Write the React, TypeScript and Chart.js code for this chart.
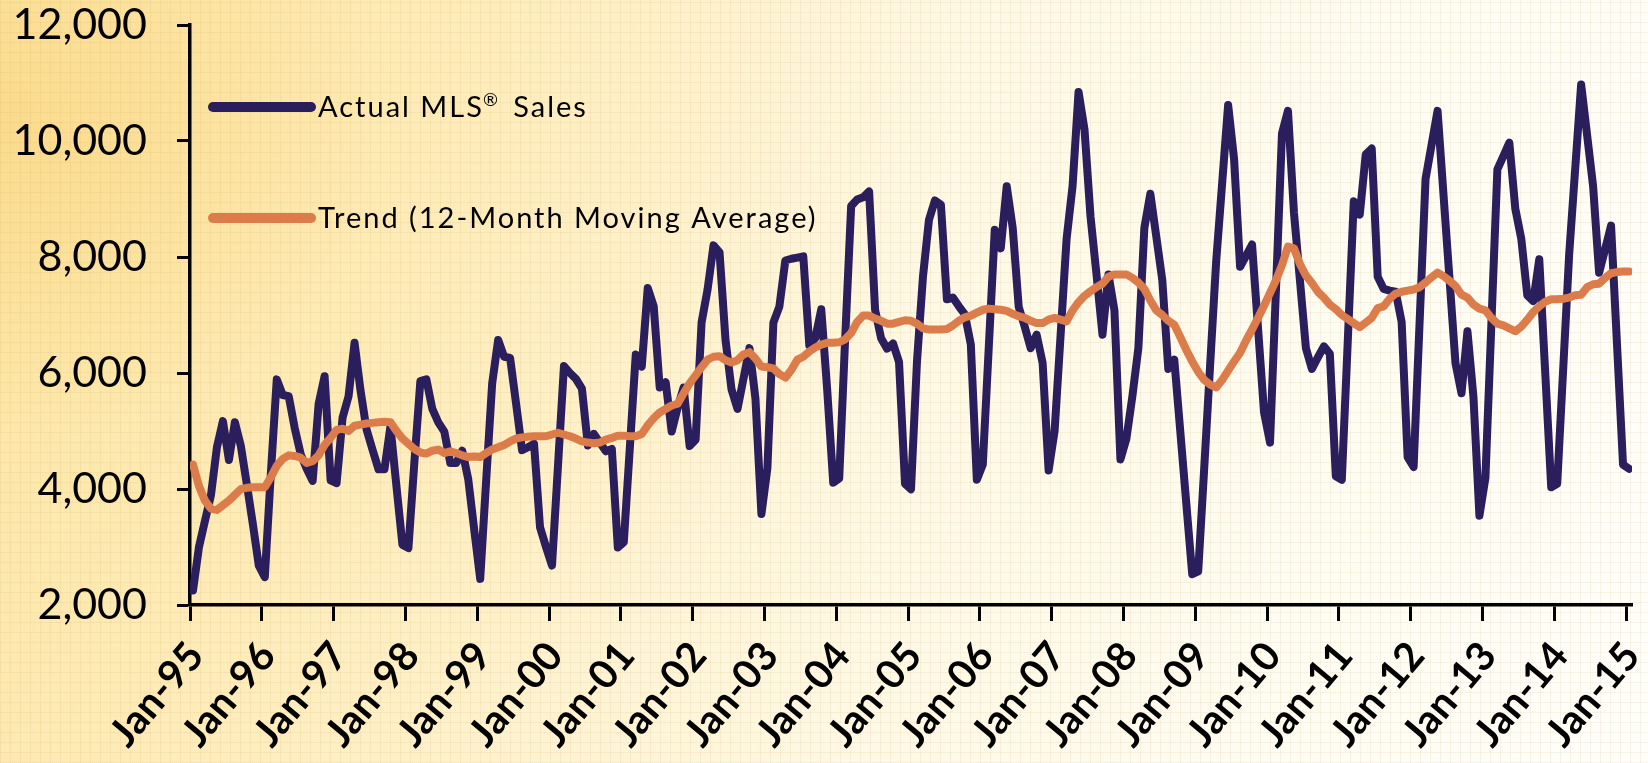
import React, { useEffect, useRef } from "react";
import { Chart, registerables } from "chart.js";

Chart.register(...registerables);

// ---------------- DATA ----------------
const yearLabels = [
  "Jan-95", "Jan-96", "Jan-97", "Jan-98", "Jan-99", "Jan-00", "Jan-01",
  "Jan-02", "Jan-03", "Jan-04", "Jan-05", "Jan-06", "Jan-07", "Jan-08",
  "Jan-09", "Jan-10", "Jan-11", "Jan-12", "Jan-13", "Jan-14", "Jan-15",
];

const seriesNames = ["Actual MLS\u00AE Sales", "Trend (12-Month Moving Average)"];

// Monthly, Jan-95 .. Jan-15 (241 values)
const actualSales = [
  // 1995
  2250, 3000, 3450, 3890, 4720, 5170, 4500, 5150, 4740, 4080, 3400, 2680,
  // 1996
  2480, 4250, 5890, 5620, 5600, 5050, 4600, 4350, 4140, 5470, 5945, 4150,
  // 1997
  4100, 5230, 5600, 6520, 5700, 5030, 4680, 4340, 4340, 5080, 4050, 3040,
  // 1998
  2980, 4460, 5860, 5890, 5380, 5150, 4990, 4450, 4450, 4660, 4170, 3300,
  // 1999
  2450, 4150, 5820, 6570, 6280, 6260, 5470, 4670, 4720, 4780, 3340, 3000,
  // 2000
  2680, 4400, 6120, 6000, 5900, 5730, 4750, 4950, 4800, 4650, 4690, 2990,
  // 2001
  3080, 4700, 6320, 6110, 7465, 7150, 5750, 5840, 4990, 5400, 5750, 4740,
  // 2002
  4850, 6870, 7440, 8200, 8080, 6570, 5720, 5380, 5900, 6430, 5560, 3570,
  // 2003
  4360, 6870, 7145, 7940, 7970, 7990, 8010, 6480, 6600, 7100, 5700, 4110,
  // 2004
  4180, 6600, 8880, 8990, 9030, 9130, 7090, 6600, 6420, 6510, 6190, 4090,
  // 2005
  3995, 6200, 7660, 8640, 8975, 8900, 7270, 7300, 7150, 7010, 6490, 4160,
  // 2006
  4420, 6450, 8470, 8150, 9220, 8500, 7140, 6800, 6430, 6660, 6170, 4320,
  // 2007
  5000, 6650, 8310, 9220, 10845, 10195, 8700, 7700, 6660, 7700, 7080, 4510,
  // 2008
  4870, 5600, 6430, 8500, 9090, 8350, 7600, 6070, 6230, 5000, 3760, 2530,
  // 2009
  2580, 4350, 6150, 7920, 9270, 10620, 9680, 7830, 8020, 8215, 6770, 5325,
  // 2010
  4800, 7450, 10130, 10520, 8770, 7600, 6430, 6070, 6270, 6460, 6330, 4220,
  // 2011
  4160, 6560, 8960, 8730, 9770, 9870, 7660, 7450, 7420, 7400, 6880, 4550,
  // 2012
  4380, 6870, 9350, 9930, 10520, 9070, 7620, 6170, 5650, 6720, 5590, 3540,
  // 2013
  4190, 6850, 9510, 9740, 9970, 8830, 8310, 7340, 7240, 7960, 6000, 4030,
  // 2014
  4090, 6070, 8050, 9510, 10975, 10100, 9220, 7730, 8130, 8540, 6480, 4420,
  // 2015
  4350,
];

const trendAverage = [
  4420, 4050, 3800, 3660, 3640, 3720, 3800, 3900, 4000, 4020, 4030, 4030,
  4030, 4200, 4400, 4520, 4580, 4570, 4540, 4450, 4480, 4580, 4760, 4880,
  5020, 5040, 5000, 5090, 5110, 5130, 5140, 5150, 5160, 5150, 5000, 4870,
  4780, 4690, 4630, 4610, 4660, 4680, 4620, 4650, 4620, 4580, 4550, 4560,
  4550, 4620, 4680, 4720, 4760, 4820, 4870, 4890, 4900, 4910, 4910, 4910,
  4940, 4970, 4940, 4910, 4870, 4820, 4800, 4790, 4800, 4850, 4880, 4920,
  4920, 4910, 4910, 4950, 5100, 5220, 5320, 5380, 5440, 5470, 5650, 5820,
  5960, 6100, 6230, 6280, 6290, 6220, 6180, 6220, 6320, 6360, 6250, 6110,
  6100, 6080, 5980, 5920, 6050, 6230, 6280, 6370, 6440, 6490, 6520, 6520,
  6530, 6580, 6690, 6880, 6990, 6990, 6940, 6900, 6850, 6850, 6880, 6910,
  6900, 6850, 6770, 6750, 6750, 6750, 6760, 6820, 6900, 6960, 6990, 7040,
  7090, 7110, 7100, 7090, 7070, 7020, 6980, 6950, 6900, 6860, 6860, 6920,
  6950, 6920, 6890, 7080, 7220, 7330, 7410, 7480, 7540, 7660, 7700, 7700,
  7700, 7640, 7560, 7450, 7250, 7080, 7000, 6900, 6830, 6620, 6400, 6200,
  6020, 5880, 5800, 5750, 5880, 6040, 6200, 6350, 6560, 6750, 6950, 7160,
  7380, 7600, 7860, 8180, 8150, 7880, 7680, 7550, 7400, 7300, 7180, 7100,
  7000, 6930, 6860, 6790, 6870, 6950, 7120, 7150, 7280, 7370, 7400, 7420,
  7440, 7480, 7560, 7650, 7730, 7670, 7590, 7500, 7350, 7300, 7180, 7110,
  7080, 6950, 6850, 6820, 6770, 6720, 6800, 6920, 7050, 7150, 7230, 7270,
  7270, 7280, 7300, 7340, 7350, 7480, 7530, 7540, 7640, 7720, 7740, 7750,
  7750,
];

const yTickValues = [2000, 4000, 6000, 8000, 10000, 12000];

// ---------------- STYLE ----------------
const NAVY = "#2a1e5c";
const ORANGE = "#db7c4a";
const FONT = "Lato, 'Open Sans', sans-serif";

const legendPlugin = {
  id: "insideLegend",
  afterDraw(chart: any) {
    const { ctx, chartArea } = chart;
    const items = chart.data.datasets;
    ctx.save();
    items.forEach((ds: any, i: number) => {
      const y = chartArea.top + 82 + i * 111;
      const x0 = chartArea.left + 23;
      ctx.strokeStyle = ds.borderColor;
      ctx.lineWidth = 10;
      ctx.lineCap = "round";
      ctx.beginPath();
      ctx.moveTo(x0, y);
      ctx.lineTo(x0 + 98, y);
      ctx.stroke();
      ctx.fillStyle = "#000";
      (ctx as any).letterSpacing = "2px";
      ctx.textBaseline = "middle";
      ctx.textAlign = "left";
      // draw label, with the registered-mark as a small superscript
      const parts = String(ds.label).split("\u00AE");
      let x = x0 + 105;
      parts.forEach((part: string, k: number) => {
        ctx.font = `29px ${FONT}`;
        ctx.fillText(part, x, y + 1);
        x += ctx.measureText(part).width;
        if (k < parts.length - 1) {
          ctx.font = `18px ${FONT}`;
          ctx.fillText("\u00AE", x - 1, y - 7);
          x += ctx.measureText("\u00AE").width + 3;
        }
      });
    });
    ctx.restore();
  },
};

export default function App() {
  const canvasRef = useRef<HTMLCanvasElement | null>(null);

  useEffect(() => {
    const prevMargin = document.body.style.margin;
    document.body.style.margin = "0";
    const canvas = canvasRef.current;
    if (!canvas) return;

    const chart = new Chart(canvas, {
      type: "line",
      data: {
        datasets: [
          {
            label: seriesNames[0],
            data: actualSales.map((v, i) => ({ x: i, y: v })),
            borderColor: NAVY,
            backgroundColor: NAVY,
            borderWidth: 8,
            pointRadius: 0,
            tension: 0,
            borderJoinStyle: "round",
            borderCapStyle: "round",
            order: 2,
          },
          {
            label: seriesNames[1],
            data: trendAverage.map((v, i) => ({ x: i, y: v })),
            borderColor: ORANGE,
            backgroundColor: ORANGE,
            borderWidth: 8,
            pointRadius: 0,
            tension: 0,
            borderJoinStyle: "round",
            borderCapStyle: "round",
            order: 1,
          },
        ],
      },
      options: {
        responsive: false,
        animation: false,
        devicePixelRatio: 1,
        layout: { padding: { top: 25, right: 16, left: 0, bottom: 0 } },
        plugins: {
          legend: { display: false },
          tooltip: { enabled: false },
        },
        scales: {
          x: {
            type: "linear",
            min: -0.5,
            max: 240.5,
            afterBuildTicks: (scale: any) => {
              scale.ticks = yearLabels.map((_, i) => ({ value: -0.5 + 12 * i }));
            },
            afterFit: (scale: any) => {
              scale.height = 158;
              scale.paddingLeft = 0;
              scale.paddingRight = 0;
            },
            ticks: {
              autoSkip: false,
              minRotation: 50,
              maxRotation: 50,
              padding: 12,
              labelOffset: 6,
              color: "#000",
              font: { family: FONT, size: 40, weight: "bold" },
              callback: (value: any) => {
                const idx = Math.round((Number(value) + 0.5) / 12);
                return yearLabels[idx] ?? "";
              },
            },
            grid: {
              drawOnChartArea: false,
              drawTicks: true,
              tickLength: 16,
              tickColor: "#000",
              tickWidth: 3,
            },
            border: { display: true, color: "#000", width: 3.5 },
          },
          y: {
            min: 2000,
            max: 12000,
            afterBuildTicks: (scale: any) => {
              scale.ticks = yTickValues.map((v) => ({ value: v }));
            },
            afterFit: (scale: any) => {
              scale.width = 190;
              scale.paddingTop = 0;
              scale.paddingBottom = 0;
            },
            ticks: {
              padding: 30,
              color: "#000",
              font: { family: FONT, size: 43 },
              callback: (value: any) => Number(value).toLocaleString("en-US"),
            },
            grid: {
              drawOnChartArea: false,
              drawTicks: true,
              tickLength: 13,
              tickColor: "#000",
              tickWidth: 3,
            },
            border: { display: true, color: "#000", width: 3.5 },
          },
        },
      },
      plugins: [legendPlugin],
    });

    document.fonts?.ready?.then(() => chart.update());

    return () => {
      chart.destroy();
      document.body.style.margin = prevMargin;
    };
  }, []);

  const bg = [
    "repeating-linear-gradient(0deg, rgba(185,150,70,0.10) 0px, rgba(185,150,70,0.10) 1px, transparent 1px, transparent 10px)",
    "repeating-linear-gradient(90deg, rgba(185,150,70,0.10) 0px, rgba(185,150,70,0.10) 1px, transparent 1px, transparent 10px)",
    "radial-gradient(ellipse 900px 700px at 0px 120px, rgba(250,215,130,0.75) 0%, rgba(252,228,160,0.35) 45%, rgba(255,245,215,0) 100%)",
    "linear-gradient(100deg, #fde7ab 0%, #fff0c8 30%, #fff8e4 55%, #fffcf2 80%, #fffef9 100%)",
  ].join(", ");

  return (
    <div
      style={{
        position: "fixed",
        left: 0,
        top: 0,
        width: 1648,
        height: 763,
        overflow: "hidden",
        background: bg,
      }}
    >
      <canvas
        ref={canvasRef}
        width={1648}
        height={763}
        style={{ display: "block", width: 1648, height: 763 }}
      />
    </div>
  );
}
